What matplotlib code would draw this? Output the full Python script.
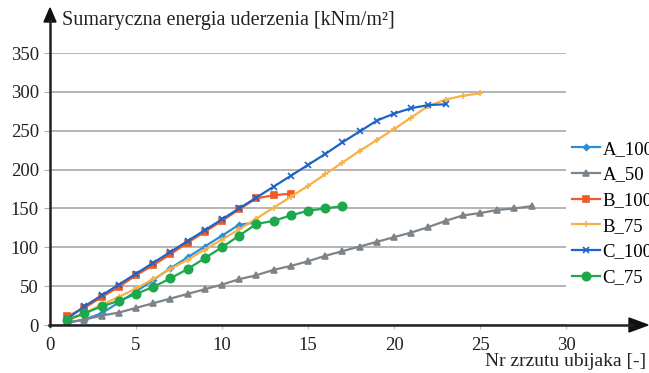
import matplotlib
matplotlib.use("Agg")
import matplotlib.pyplot as plt
from matplotlib.patches import Polygon
from matplotlib.lines import Line2D

plt.rcParams['font.family'] = ['Liberation Serif', 'DejaVu Serif']

a100_x = list(range(1, 13))
a100_y = [3, 7, 15, 29, 43, 58, 73, 87, 101, 115, 129, 132]
a50_x = list(range(1, 29))
a50_y = [3, 7, 12, 16, 22, 28, 34, 40, 46, 52, 59, 64, 71, 76, 82, 89,
         95, 101, 107, 113, 119, 126, 134, 141, 144, 148, 150, 153]
b100_x = list(range(1, 15))
b100_y = [11, 22, 36, 49, 64, 77, 91, 106, 120, 134, 149, 163, 167, 169]
b75_x = list(range(1, 26))
b75_y = [5, 15, 26, 36, 47, 59, 72, 84, 97, 110, 123, 137, 151, 165, 179,
         194, 209, 224, 238, 252, 267, 282, 290, 295, 298]
c100_x = list(range(1, 24))
c100_y = [8, 24, 38, 52, 66, 80, 94, 108, 122, 136, 150, 164, 178, 192,
          206, 220, 235, 249, 263, 272, 279, 283, 284]
c75_x = list(range(1, 18))
c75_y = [7, 15, 24, 31, 40, 49, 60, 72, 86, 100, 115, 130, 134, 141, 147, 150, 153]

x_ticks = [0, 5, 10, 15, 20, 25, 30]
y_ticks = [0, 50, 100, 150, 200, 250, 300, 350]

W, H = 649, 373
fig = plt.figure(figsize=(W / 100, H / 100), dpi=100)
ax = fig.add_axes([50 / W, 1 - 325 / H, (566 - 50) / W, (325 - 53) / H])

ax.set_xlim(0, 30)
ax.set_ylim(0, 350)
for s in ax.spines.values():
    s.set_visible(False)
ax.set_xticks(x_ticks)
ax.set_yticks(y_ticks)
ax.tick_params(axis='both', labelsize=13.5, colors='#222222')
ax.tick_params(axis='x', length=3, color='#9cc3e0', pad=6)
ax.tick_params(axis='y', length=4, color='#b0b0b0', pad=4)
ax.yaxis.grid(True, color='#b4b4b4', linewidth=1.4)
ax.set_axisbelow(True)

series = [
    (a100_x, a100_y, 'A_100', '#2b8fd8', 'D', 3),
    (a50_x, a50_y, 'A_50', '#7d8489', '^', 5),
    (b100_x, b100_y, 'B_100', '#f05a24', 's', 5),
    (b75_x, b75_y, 'B_75', '#f6b148', '+', 5),
    (c100_x, c100_y, 'C_100', '#1f63c6', 'x', 5),
    (c75_x, c75_y, 'C_75', '#1da84c', 'o', 6),
]
handles = []
for x, y, lab, col, mk, ms in series:
    h, = ax.plot(x, y, color=col, marker=mk, markersize=ms, linewidth=1.6,
                 label=lab, markeredgewidth=1.2)
    handles.append(h)

leg = fig.legend(handles=handles, loc='upper left',
                 bbox_to_anchor=(564 / W, 1 - 133 / H),
                 frameon=False, fontsize=13.5, handlelength=1.5,
                 handletextpad=0.15, labelspacing=0.46, borderaxespad=0)

def fx(px):
    return px / W

def fy(py):
    return 1 - py / H

fig.add_artist(Line2D([fx(50), fx(50)], [fy(326), fy(20)], color='#222222', lw=1.8))
fig.add_artist(Line2D([fx(49), fx(632)], [fy(325), fy(325)], color='#222222', lw=1.8))
fig.add_artist(Polygon([(fx(44), fy(22)), (fx(56), fy(22)), (fx(50), fy(8))],
                       closed=True, color='#111111'))
fig.add_artist(Polygon([(fx(629), fy(318)), (fx(629), fy(332)), (fx(648), fy(325))],
                       closed=True, color='#111111'))

fig.text(fx(62), fy(20), 'Sumaryczna energia uderzenia [kNm/m²]',
         fontsize=14.5, va='center', ha='left', color='#222222')
fig.text(fx(646), fy(362), 'Nr zrzutu ubijaka [-]', fontsize=14,
         va='center', ha='right', color='#222222')

fig.savefig('out.png', dpi=100)
